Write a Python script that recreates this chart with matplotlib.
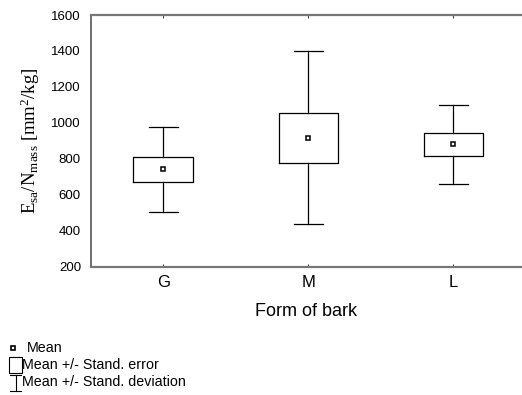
import numpy as np
import matplotlib
matplotlib.use("Agg")
import matplotlib.pyplot as plt
from matplotlib.lines import Line2D
from matplotlib.patches import Rectangle

# values
categories = ["G", "M", "L"]
means = [741, 917, 880]
std_err = [68, 139, 63]
std_dev = [235, 480, 220]

plt.rcParams["font.family"] = ["Liberation Sans", "DejaVu Sans"]
plt.rcParams["mathtext.fontset"] = "custom"
plt.rcParams["mathtext.rm"] = "Liberation Serif"
plt.rcParams["mathtext.it"] = "Liberation Serif:italic"

W, H = 522, 395
fig = plt.figure(figsize=(W / 100, H / 100), dpi=100)
ax = fig.add_axes([90.7 / W, 1 - 266.7 / H, 1 - 90.7 / W, (266.7 - 15) / H])

# build box stats: box = mean +/- SE, whiskers = mean +/- SD
stats = []
for m, se, sd in zip(means, std_err, std_dev):
    stats.append({"med": m, "q1": m - se, "q3": m + se,
                  "whislo": m - sd, "whishi": m + sd,
                  "mean": m, "fliers": []})

pos = np.arange(len(categories))
ax.bxp(stats, positions=pos, widths=0.41, showmeans=True, showfliers=False,
       boxprops=dict(color="black", linewidth=0.9),
       whiskerprops=dict(color="black", linewidth=0.9),
       capprops=dict(color="black", linewidth=0.9),
       capwidths=0.2,
       medianprops=dict(linewidth=0),
       meanprops=dict(marker="s", markersize=3.2, markerfacecolor="white",
                      markeredgecolor="black", markeredgewidth=1.1))

ax.set_xlim(-0.5, (522 - 163.3) / 145)
ax.set_ylim(200, 1600)
ax.set_yticks(np.arange(200, 1601, 200))
ax.set_xticks(pos)
ax.set_xticklabels(categories, fontsize=12)
ax.tick_params(axis="y", labelsize=9.5, length=0, pad=7)
ax.tick_params(axis="x", direction="in", length=2, pad=6, top=True,
               color="#444444")

ax.spines["right"].set_visible(False)
for s in ["top", "bottom"]:
    ax.spines[s].set_color("#777777")
    ax.spines[s].set_linewidth(1.6)
ax.spines["left"].set_color("#555555")
ax.spines["left"].set_linewidth(1.2)

ax.set_xlabel("Form of bark", fontsize=13, labelpad=9)
ax.set_ylabel(r"$\mathrm{E_{sa}/N_{mass}\ [mm^2/kg]}$", fontsize=13.5,
              labelpad=7)

# legend drawn at the bottom left of the figure
def fx(px):
    return px / W

def fy(py):
    return 1 - py / H

fig.add_artist(Line2D([fx(13)], [fy(348)], marker="s", markersize=3.5,
                      markerfacecolor="white", markeredgecolor="black",
                      markeredgewidth=1.2, linestyle="none"))
fig.text(fx(26.5), fy(348), "Mean", fontsize=10.3, va="center")

fig.add_artist(Rectangle((fx(9), fy(373)), fx(12.5), 16 / H, fill=False,
                         edgecolor="black", linewidth=0.8,
                         transform=fig.transFigure))
fig.text(fx(22), fy(365), "Mean +/- Stand. error", fontsize=10.3,
         va="center")

fig.add_artist(Line2D([fx(15.5), fx(15.5)], [fy(375), fy(391)], color="black",
                      linewidth=0.8))
fig.add_artist(Line2D([fx(10), fx(21)], [fy(375), fy(375)], color="black",
                      linewidth=0.8))
fig.add_artist(Line2D([fx(10), fx(21)], [fy(391), fy(391)], color="black",
                      linewidth=0.8))
fig.text(fx(22), fy(382.5), "Mean +/- Stand. deviation", fontsize=10.3,
         va="center")

fig.savefig("out.png", dpi=100)
